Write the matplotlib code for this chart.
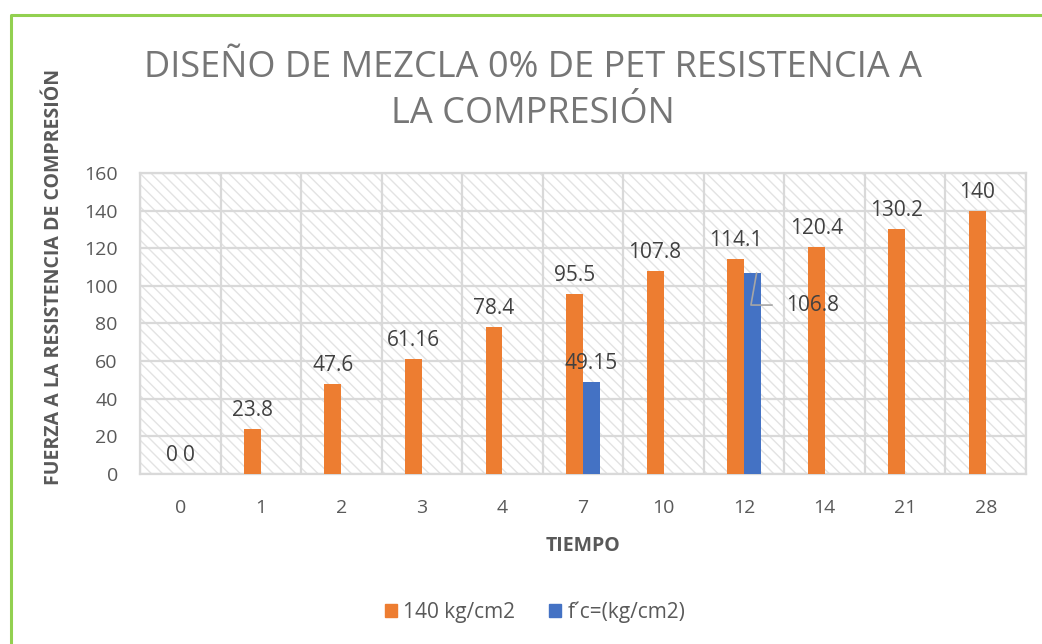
import numpy as np
import matplotlib.pyplot as plt
from matplotlib.patches import Rectangle
from matplotlib.lines import Line2D

plt.rcParams['font.family'] = ['Open Sans', 'DejaVu Sans']

# data
dias = ['0', '1', '2', '3', '4', '7', '10', '12', '14', '21', '28']
resist_140 = [0, 23.8, 47.6, 61.16, 78.4, 95.5, 107.8, 114.1, 120.4, 130.2, 140]
resist_fc = [0, None, None, None, None, 49.15, None, 106.8, None, None, None]

c_orange = '#ED7D31'
c_blue = '#4472C4'
c_grid = '#d9d9d9'
c_txt = '#595959'

fig = plt.figure(figsize=(10.42, 6.44), dpi=100)
ax = fig.add_axes([140/1042, 1-474/644, 886/1042, 301/644])

x = np.arange(len(dias))
w = 0.21

# hatched background
plt.rcParams['hatch.linewidth'] = 1.0
bg = Rectangle((0, 0), 1, 1, transform=ax.transAxes, facecolor='white',
               edgecolor='#e3e3e3', hatch='\\\\\\', lw=0, zorder=0)
ax.add_patch(bg)

ax.bar(x - w/2, resist_140, w, color=c_orange, zorder=3, label='140 kg/cm2')
fc_x = [xi + w/2 for xi, v in zip(x, resist_fc) if v is not None]
fc_v = [v for v in resist_fc if v is not None]
ax.bar(fc_x, fc_v, w, color=c_blue, zorder=3, label='f´c=(kg/cm2)')

ax.set_xlim(-0.5, len(dias) - 0.5)
ax.set_ylim(0, 160)
ax.set_yticks(range(0, 161, 20))
ax.set_xticks(x)
ax.set_xticklabels(dias)
ax.set_xticks(np.arange(-0.5, len(dias), 1), minor=True)
ax.grid(True, axis='y', color=c_grid, lw=1.6, zorder=1)
ax.grid(True, axis='x', which='minor', color=c_grid, lw=1.6, zorder=1)
ax.tick_params(which='both', length=0)
ax.tick_params(axis='y', labelsize=14, colors=c_txt, pad=16)
ax.tick_params(axis='x', labelsize=14, colors=c_txt, pad=18)
for s in ax.spines.values():
    s.set_color(c_grid)
    s.set_linewidth(1.6)

# data labels
for xi, v in zip(x, resist_140):
    ax.annotate(f'{v:g}', (xi - w/2, v), xytext=(0, 8), textcoords='offset pixels',
                ha='center', va='bottom', fontsize=15, color='#404040', zorder=5)
for xi, v in zip(x, resist_fc):
    if v is None:
        continue
    if v > 100:
        ax.annotate(f'{v:g}', (xi + w/2 + 0.05, v), xytext=(xi + 0.85, v - 17),
                    ha='center', va='center', fontsize=15, color='#404040', zorder=5,
                    arrowprops=dict(arrowstyle='-', color='#a6a6a6', lw=1.2,
                                    shrinkA=8, shrinkB=0,
                                    connectionstyle='angle,angleA=0,angleB=80,rad=0'))
    else:
        ax.annotate(f'{v:g}', (xi + w/2, v), xytext=(0, 8), textcoords='offset pixels',
                    ha='center', va='bottom', fontsize=15, color='#404040', zorder=5)

ax.set_xlabel('TIEMPO', fontsize=14, fontweight='bold', color=c_txt, labelpad=14)
fig.text(54/1042, 1-277/644, 'FUERZA A LA RESISTENCIA DE COMPRESIÓN', rotation=90,
         ha='center', va='center', fontsize=14, fontweight='bold', color=c_txt)

fig.text(533/1042, 1-91/644, 'DISEÑO DE MEZCLA 0% DE PET RESISTENCIA A\nLA COMPRESIÓN',
         ha='center', va='center', fontsize=26, color='#767676', linespacing=1.38)

handles = [Rectangle((0, 0), 1, 1, color=c_orange), Rectangle((0, 0), 1, 1, color=c_blue)]
fig.legend(handles, ['140 kg/cm2', 'f´c=(kg/cm2)'], loc='center', ncol=2,
           bbox_to_anchor=(535/1042, 1-612/644), frameon=False, fontsize=15,
           labelcolor=c_txt, handlelength=0.6, handleheight=0.6, handletextpad=0.3,
           columnspacing=1.6)

# green border (top and left visible)
fig.add_artist(Line2D([11/1042, 11/1042, 1], [0, 1-15/644, 1-15/644],
                      transform=fig.transFigure, color='#92D050', lw=2.2))

fig.savefig('out.png', dpi=100)
